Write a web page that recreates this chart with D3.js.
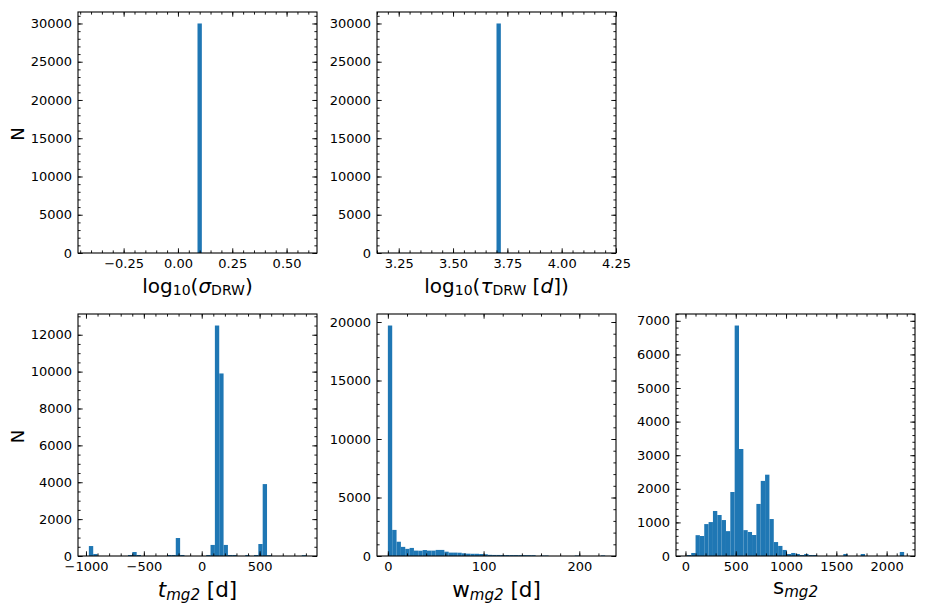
<!DOCTYPE html>
<html>
<head>
<meta charset="utf-8">
<script src="https://cdn.jsdelivr.net/npm/d3@7"></script>
<style>
  html, body { margin: 0; padding: 0; background: #fff; }
  svg { display: block; font-family: "DejaVu Sans", sans-serif; }
</style>
</head>
<body>
<svg id="chart" width="932" height="611"></svg>
<script>
// ---------------- data (histograms, 50 bins each) ----------------
const sigmaRange = [-0.41, 0.59];
const sigmaCounts = [0,0,0,0,0,0,0,0,0,0, 0,0,0,0,0,0,0,0,0,0, 0,0,0,0,0,30000,0,0,0,0, 0,0,0,0,0,0,0,0,0,0, 0,0,0,0,0,0,0,0,0,0];

const tauRange = [3.20, 4.20];
const tauCounts = [0,0,0,0,0,0,0,0,0,0, 0,0,0,0,0,0,0,0,0,0, 0,0,0,0,0,30000,0,0,0,0, 0,0,0,0,0,0,0,0,0,0, 0,0,0,0,0,0,0,0,0,0];

const tRange = [-975, 902];
const tCounts = [540,110,0,0,0,0,0,0,0,55, 217,55,0,0,0,0,0,0,55,55, 975,55,0,0,0,0,0,55,600,12500, 9900,600,55,55,0,0,55,0,55,650, 3900,45,0,0,0,0,0,0,0,45];

const wRange = [0, 227];
const wCounts = [19700,2230,1220,780,610,690,460,450,510,460, 460,520,520,370,290,290,280,230,200,190, 190,170,150,100,90,90,85,85,80,80, 75,75,70,70,0,40,40,0,0,0, 0,0,0,40,0,0,0,0,0,50];

const sRange = [14, 2174];
const sCounts = [30,90,620,595,950,1010,1340,1220,1070,740, 1905,6860,3185,770,715,625,1550,2235,2420,1100, 415,300,180,60,90,60,30,60,30,30, 0,0,0,0,0,0,60,0,0,0, 60,0,0,0,0,0,0,0,0,120];

// tick labels
const sigmaXTicks = [-0.25, 0.00, 0.25, 0.50];
const tauXTicks = [3.25, 3.50, 3.75, 4.00, 4.25];
const tXTicks = [-1000, -500, 0, 500];
const wXTicks = [0, 100, 200];
const sXTicks = [0, 500, 1000, 1500, 2000];
const drwYTicks = [0, 5000, 10000, 15000, 20000, 25000, 30000];
const tYTicks = [0, 2000, 4000, 6000, 8000, 10000, 12000];
const wYTicks = [0, 5000, 10000, 15000, 20000];
const sYTicks = [0, 1000, 2000, 3000, 4000, 5000, 6000, 7000];

// axis labels (mathtext-like pieces)
const sigmaLabel = [{t:"log"},{t:"10",sub:true},{t:"("},{t:"σ",it:true},{t:"DRW",sub:true},{t:")"}];
const tauLabel = [{t:"log"},{t:"10",sub:true},{t:"("},{t:"τ",it:true},{t:"DRW",sub:true},{t:" ["},{t:"d",it:true},{t:"])"}];
const tLabel = [{t:"t",it:true},{t:"mg2",sub:true,it:true},{t:" [d]"}];
const wLabel = [{t:"w"},{t:"mg2",sub:true,it:true},{t:" [d]"}];
const sLabel = [{t:"s"},{t:"mg2",sub:true,it:true}];

// ---------------- layout ----------------
const BAR = "#1f77b4";
const svg = d3.select("#chart");

const panels = [
  {range: sigmaRange, counts: sigmaCounts, box:[78,12,317,253], xt: sigmaXTicks, xm: 0.05, yt: drwYTicks, ym: 1000, fmt: d3.format(".2f"), label: sigmaLabel, ly: 293, fs: 20, ylab: true},
  {range: tauRange, counts: tauCounts, box:[377,12,616,253], xt: tauXTicks, xm: 0.05, yt: drwYTicks, ym: 1000, fmt: d3.format(".2f"), label: tauLabel, ly: 293, fs: 20, ylab: false},
  {range: tRange, counts: tCounts, box:[78,314,317,556], xt: tXTicks, xm: 100, yt: tYTicks, ym: 500, fmt: d3.format("d"), label: tLabel, ly: 597, fs: 21.5, ylab: true},
  {range: wRange, counts: wCounts, box:[377,314,616,556], xt: wXTicks, xm: 20, yt: wYTicks, ym: 1000, fmt: d3.format("d"), label: wLabel, ly: 597, fs: 21.5, ylab: false},
  {range: sRange, counts: sCounts, box:[676,314,915,556], xt: sXTicks, xm: 100, yt: sYTicks, ym: 200, fmt: d3.format("d"), label: sLabel, ly: 594, fs: 21.5, ylab: false}
];

const MAJ = 4.7, MIN = 2.6;

function minorTicks(domain, step) {
  const out = [];
  const start = Math.ceil(domain[0] / step - 1e-9);
  const end = Math.floor(domain[1] / step + 1e-9);
  for (let i = start; i <= end; i++) out.push(+(i * step).toFixed(6));
  return out;
}

panels.forEach(p => {
  const [x0, y0, x1, y1] = p.box;
  const n = p.counts.length;
  const span = p.range[1] - p.range[0];
  const bw = span / n;
  const x = d3.scaleLinear().domain([p.range[0] - 0.05 * span, p.range[1] + 0.05 * span]).range([x0, x1]);
  const y = d3.scaleLinear().domain([0, d3.max(p.counts) * 1.05]).range([y1, y0]);

  const g = svg.append("g");

  // bars
  const bins = p.counts.map((c, i) => ({c, a: p.range[0] + i * bw, b: p.range[0] + (i + 1) * bw}));
  g.append("g").selectAll("rect").data(bins.filter(d => d.c > 0)).join("rect")
    .attr("x", d => x(d.a))
    .attr("width", d => x(d.b) - x(d.a))
    .attr("y", d => y(d.c))
    .attr("height", d => y(0) - y(d.c))
    .attr("fill", BAR);

  const xMinor = minorTicks(x.domain(), p.xm);
  const yMinor = minorTicks(y.domain(), p.ym);

  const styleAxis = sel => {
    sel.attr("font-size", 13).attr("font-family", "DejaVu Sans");
    sel.select(".domain").remove();
    sel.selectAll(".tick line").attr("stroke", "#000").attr("stroke-width", 0.9);
    sel.selectAll("text").attr("fill", "#000").style("font-size", "13px").style("font-family", "DejaVu Sans");
  };

  // bottom
  g.append("g").attr("transform", `translate(0,${y1})`)
    .call(d3.axisBottom(x).tickValues(p.xt).tickFormat(p.fmt).tickSize(-MAJ).tickPadding(5.5)).call(styleAxis);
  g.append("g").attr("transform", `translate(0,${y1})`)
    .call(d3.axisBottom(x).tickValues(xMinor).tickFormat("").tickSize(-MIN)).call(styleAxis);
  // top
  g.append("g").attr("transform", `translate(0,${y0})`)
    .call(d3.axisTop(x).tickValues(p.xt).tickFormat("").tickSize(-MAJ)).call(styleAxis);
  g.append("g").attr("transform", `translate(0,${y0})`)
    .call(d3.axisTop(x).tickValues(xMinor).tickFormat("").tickSize(-MIN)).call(styleAxis);
  // left
  g.append("g").attr("transform", `translate(${x0},0)`)
    .call(d3.axisLeft(y).tickValues(p.yt).tickFormat(d3.format("d")).tickSize(-MAJ).tickPadding(6)).call(styleAxis);
  g.append("g").attr("transform", `translate(${x0},0)`)
    .call(d3.axisLeft(y).tickValues(yMinor).tickFormat("").tickSize(-MIN)).call(styleAxis);
  // right
  g.append("g").attr("transform", `translate(${x1},0)`)
    .call(d3.axisRight(y).tickValues(p.yt).tickFormat("").tickSize(-MAJ)).call(styleAxis);
  g.append("g").attr("transform", `translate(${x1},0)`)
    .call(d3.axisRight(y).tickValues(yMinor).tickFormat("").tickSize(-MIN)).call(styleAxis);

  // frame
  g.append("rect").attr("x", x0).attr("y", y0).attr("width", x1 - x0).attr("height", y1 - y0)
    .attr("fill", "none").attr("stroke", "#000").attr("stroke-width", 1.1);

  // x label
  const fs = p.fs, sfs = p.fs * 0.7, shift = p.fs * 0.12;
  const tx = g.append("text").attr("x", (x0 + x1) / 2).attr("y", p.ly)
    .attr("text-anchor", "middle").style("font-size", fs + "px").attr("fill", "#000")
    .attr("xml:space", "preserve");
  let prevSub = false;
  p.label.forEach(part => {
    const ts = tx.append("tspan").text(part.t);
    if (part.it) ts.style("font-style", "italic");
    if (part.sub) {
      ts.style("font-size", sfs + "px");
      if (!prevSub) ts.attr("dy", shift);
    } else if (prevSub) {
      ts.attr("dy", -shift);
    }
    prevSub = !!part.sub;
  });

  // y label
  if (p.ylab) {
    g.append("text").attr("transform", `translate(23.5,${(y0 + y1) / 2 + 1.5}) rotate(-90)`)
      .attr("text-anchor", "middle").style("font-size", "18px").attr("fill", "#000").text("N");
  }
});
</script>
</body>
</html>
